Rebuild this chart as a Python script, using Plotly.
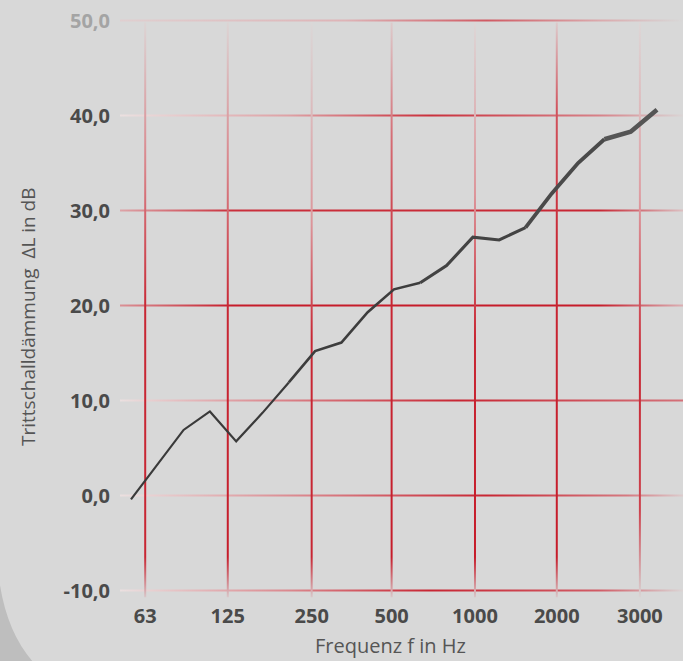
import plotly.graph_objects as go

# ---------------- data ----------------
# third-octave band index (position along the frequency axis)
band_index = list(range(21))
delta_L = [-0.4, 3.2, 6.9, 8.85, 5.7, 8.7, 11.9, 15.2, 16.1, 19.3, 21.7,
           22.4, 24.2, 27.2, 26.9, 28.2, 31.8, 35.0, 37.5, 38.3, 40.6]

x_tick_pos = [0.54, 3.68, 6.87, 9.91, 13.08, 16.19, 19.35]
x_tick_text = ["63", "125", "250", "500", "1000", "2000", "3000"]

y_tick_vals = [50, 40, 30, 20, 10, 0, -10]
y_tick_text = ["50,0", "40,0", "30,0", "20,0", "10,0", "0,0", "-10,0"]

x_title = "Frequenz f in Hz"
y_title = "Trittschalldämmung\u00a0 ΔL in dB"

# ---------------- layout geometry ----------------
W, H = 683, 661
ML, MR, MT, MB = 120, 0, 0, 61
XR = [-0.418, 20.989]
YR = [-11.0, 52.16]
PX_X = (W - ML - MR) / (XR[1] - XR[0])   # pixels per x unit
PX_Y = (H - MT - MB) / (YR[1] - YR[0])   # pixels per y unit

BG = (216, 216, 216)
RED = (198, 28, 42)
PALE = (240, 226, 226)


def mix(a, b, s):
    return tuple(a[i] + (b[i] - a[i]) * s for i in range(3))


def colorscale(profile):
    cs = []
    for t, s, a in profile:
        c = mix(BG, mix(PALE, RED, s), a)
        cs.append([t, "rgb(%d,%d,%d)" % tuple(int(round(v)) for v in c)])
    return cs


fig = go.Figure()

LW = 2.0  # grid stroke, px


def grid_band(x0, x1, y0, y1, horizontal, profile):
    if horizontal:
        h = LW / PX_Y / 2
        xs = [x0, x1, x1, x0, x0]
        ys = [y0 - h, y0 - h, y0 + h, y0 + h, y0 - h]
        gtype = "horizontal"
        start, stop = x0, x1
    else:
        w = LW / PX_X / 2
        xs = [x0 - w, x0 + w, x0 + w, x0 - w, x0 - w]
        ys = [y0, y0, y1, y1, y0]
        gtype = "vertical"
        start, stop = y0, y1
    fig.add_trace(go.Scatter(
        x=xs, y=ys, mode="lines", fill="toself", line=dict(width=0),
        fillgradient=dict(type=gtype, colorscale=colorscale(profile),
                          start=start, stop=stop),
        hoverinfo="skip", showlegend=False))


h_profiles = {
    50: [(0, 0.15, 0.45), (0.4, 0.35, 0.6), (0.65, 0.8, 0.85), (0.85, 0.45, 0.6), (1, 0.1, 0.0)],
    40: [(0, 0.0, 0.8), (0.3, 0.4, 0.8), (0.55, 0.9, 1), (0.85, 0.6, 0.8), (1, 0.2, 0.1)],
    30: [(0, 0.4, 0.75), (0.2, 0.9, 1), (0.85, 0.95, 1), (1, 0.35, 0.4)],
    20: [(0, 0.5, 0.8), (0.2, 1, 1), (0.85, 1, 1), (1, 0.45, 0.5)],
    10: [(0, 0.0, 0.8), (0.3, 0.55, 0.9), (0.6, 0.95, 1), (1, 0.7, 0.8)],
    0: [(0, 0.0, 0.8), (0.35, 0.55, 0.9), (0.65, 0.95, 1), (0.9, 0.65, 0.8), (1, 0.25, 0.3)],
    -10: [(0, 0.0, 0.8), (0.3, 0.5, 0.9), (0.55, 0.95, 1), (0.85, 0.75, 0.9), (1, 0.15, 0.15)],
}
for v in y_tick_vals:
    grid_band(XR[0], XR[1], v, v, True, h_profiles[v])

# vertical grid lines; profiles run bottom (t=0) to top (t=1)
v_top, v_bot = 49.8, -10.7
v_profiles = [
    [(0, 0.5, 0.2), (0.07, 0.95, 1), (0.5, 0.95, 1), (0.75, 0.55, 0.85), (1, 0.15, 0.2)],
    [(0, 0.5, 0.2), (0.07, 1, 1), (0.5, 0.95, 1), (0.75, 0.55, 0.85), (1, 0.15, 0.2)],
    [(0, 0.5, 0.2), (0.07, 0.95, 1), (0.45, 0.95, 1), (0.65, 0.45, 0.85), (1, 0.1, 0.15)],
    [(0, 0.5, 0.2), (0.07, 1, 1), (0.55, 0.95, 1), (0.8, 0.65, 0.9), (1, 0.25, 0.35)],
    [(0, 0.5, 0.2), (0.07, 1, 1), (0.45, 0.95, 1), (0.7, 0.45, 0.85), (1, 0.1, 0.25)],
    [(0, 0.5, 0.2), (0.07, 1, 1), (0.6, 0.95, 1), (0.85, 0.75, 0.95), (1, 0.25, 0.35)],
    [(0, 0.25, 0.1), (0.15, 0.85, 0.95), (0.4, 0.95, 1), (0.7, 0.4, 0.85), (1, 0.1, 0.25)],
]
for xv, prof in zip(x_tick_pos, v_profiles):
    grid_band(xv, xv, v_bot, v_top, False, prof)


# paper-coordinate helpers (plot area = paper)
def px(x):
    return (x - ML) / (W - ML - MR)


def py(y):
    return (H - MB - y) / (H - MT - MB)


# darker photographed corner, bottom-left
shapes = [dict(
    type="path", xref="paper", yref="paper", layer="below",
    path=(f"M {px(-2)},{py(570)} Q {px(4)},{py(630)} {px(34)},{py(663)} "
          f"L {px(-2)},{py(663)} Z"),
    fillcolor="rgb(190,190,190)", line=dict(width=0))]

# curve drawn in pieces with growing stroke width (as in the original)
pieces = [(0, 6, 2.2, "#3a3a3a"), (6, 11, 2.6, "#3d3d3d"), (11, 15, 3.1, "#434343"),
          (15, 18, 3.8, "#4a4a4a"), (18, 20, 4.6, "#555555")]
for a, b, w, c in pieces:
    fig.add_trace(go.Scatter(
        x=band_index[a:b + 1], y=delta_L[a:b + 1], mode="lines",
        line=dict(color=c, width=w), hoverinfo="skip", showlegend=False))

y_ticktext_styled = [
    (f"<span style='color:#a4a4a4'>{t}</span>" if v == 50 else t)
    for v, t in zip(y_tick_vals, y_tick_text)]

fig.update_layout(
    width=W, height=H,
    margin=dict(l=ML, r=MR, t=MT, b=MB, pad=0),
    paper_bgcolor="rgb(216,216,216)", plot_bgcolor="rgba(0,0,0,0)",
    shapes=shapes,
    showlegend=False,
    xaxis=dict(range=XR, tickmode="array", tickvals=x_tick_pos, ticktext=x_tick_text,
               showgrid=False, zeroline=False, showline=False, ticks="",
               ticklabelstandoff=2,
               tickfont=dict(family="Open Sans", size=20, color="#4a4a4a", weight="bold")),
    yaxis=dict(range=YR, tickmode="array", tickvals=y_tick_vals, ticktext=y_ticktext_styled,
               showgrid=False, zeroline=False, showline=False, ticks="",
               ticklabelstandoff=9,
               tickfont=dict(family="Open Sans", size=20, color="#4a4a4a", weight="bold")),
    annotations=[
        dict(text=x_title, xref="paper", yref="paper", x=px(390), y=py(645),
             showarrow=False, xanchor="center", yanchor="middle",
             font=dict(family="Open Sans", size=20, color="#555555")),
        dict(text=y_title, xref="paper", yref="paper", x=px(28), y=py(317),
             showarrow=False, xanchor="center", yanchor="middle", textangle=-90,
             font=dict(family="Open Sans", size=19, color="#555555")),
    ],
)

fig.write_html(
    "out.html",
    config={"displayModeBar": False},
    post_script="document.body.style.margin='0';"
                "document.body.style.background='rgb(216,216,216)';"
                "document.body.style.overflow='hidden';")
